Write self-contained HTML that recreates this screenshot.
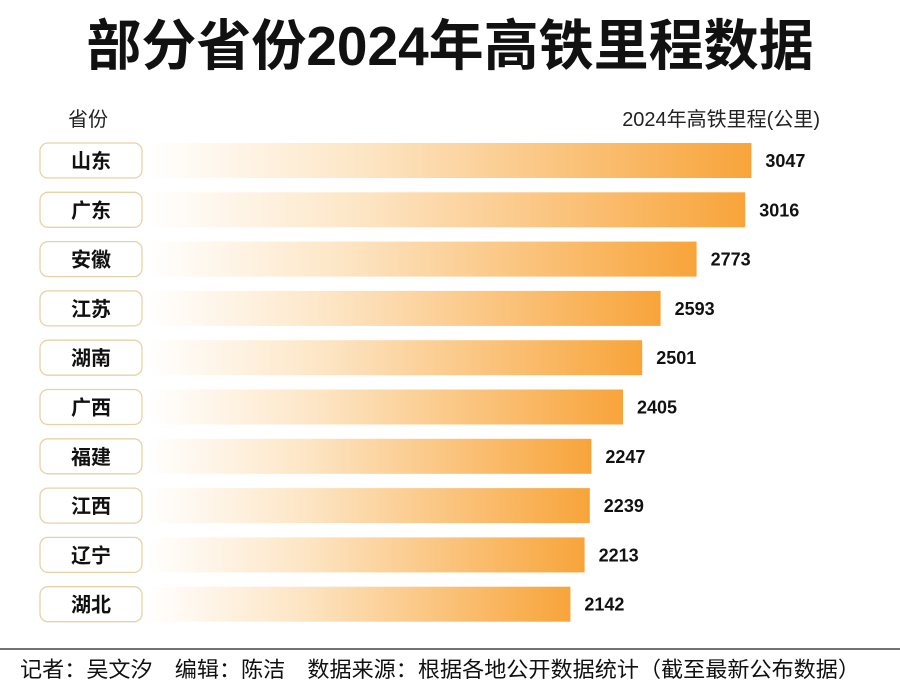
<!DOCTYPE html>
<html><head><meta charset="utf-8">
<style>
body{margin:0;background:#fff;width:900px;height:688px;overflow:hidden;font-family:"Liberation Sans","Noto Sans CJK SC",sans-serif;}
svg text{font-family:"Liberation Sans","Noto Sans CJK SC",sans-serif;}
</style></head>
<body>
<svg id="chart" width="900" height="688" viewBox="0 0 900 688">
<defs>
<linearGradient id="g" x1="0" x2="1" y1="0" y2="0">
<stop offset="0" stop-color="#ffffff"/>
<stop offset="0.35" stop-color="#fde6c6"/>
<stop offset="1" stop-color="#f8a43a"/>
</linearGradient>
</defs>
<text x="450" y="65" text-anchor="middle" font-size="55" font-weight="bold" fill="#111">部分省份2024年高铁里程数据</text>
<text x="68" y="126" font-size="20" fill="#222">省份</text>
<text x="820" y="126" text-anchor="end" font-size="20" fill="#222">2024年高铁里程(公里)</text>
<g id="rows"></g>
<line x1="0" y1="649" x2="900" y2="649" stroke="#444" stroke-width="1.5"/>
<text x="20" y="677" font-size="21.5" fill="#111" textLength="840" lengthAdjust="spacingAndGlyphs">记者：吴文汐　编辑：陈洁　数据来源：根据各地公开数据统计（截至最新公布数据）</text>
</svg>
<script>
const categories=["山东","广东","安徽","江苏","湖南","广西","福建","江西","辽宁","湖北"];
const values=[3047,3016,2773,2593,2501,2405,2247,2239,2213,2142];
const x0=142, scale=0.2, rowTop=143, rowStep=49.3, barH=35;
function xPos(v){return x0+v*scale;}
function yPos(i){return rowTop+i*rowStep;}
const ns="http://www.w3.org/2000/svg";
const g=document.getElementById('rows');
categories.forEach((c,i)=>{
  const y=yPos(i);
  const bar=document.createElementNS(ns,'rect');
  
  
  bar.setAttribute('x',x0+6);bar.setAttribute('y',y);
  bar.setAttribute('width',xPos(values[i])-x0-6);bar.setAttribute('height',barH);
  bar.setAttribute('fill','url(#g)');
  g.appendChild(bar);
  const box=document.createElementNS(ns,'rect');
  
  
  box.setAttribute('x',40);box.setAttribute('y',y);box.setAttribute('width',102);box.setAttribute('height',barH);
  box.setAttribute('rx',8);box.setAttribute('fill','#fff');box.setAttribute('stroke','#e6d2a6');box.setAttribute('stroke-width','1.3');
  g.appendChild(box);
  const t=document.createElementNS(ns,'text');
  
  
  t.setAttribute('x',91);t.setAttribute('y',y+25);t.setAttribute('text-anchor','middle');
  t.setAttribute('font-size','20');t.setAttribute('font-weight','bold');t.setAttribute('fill','#111');
  t.textContent=c;g.appendChild(t);
  const v=document.createElementNS(ns,'text');
  
  
  v.setAttribute('x',xPos(values[i])+14);v.setAttribute('y',y+24);
  v.setAttribute('font-size','18');v.setAttribute('font-weight','bold');v.setAttribute('fill','#111');
  v.textContent=values[i];g.appendChild(v);
});
</script>
</body></html>
